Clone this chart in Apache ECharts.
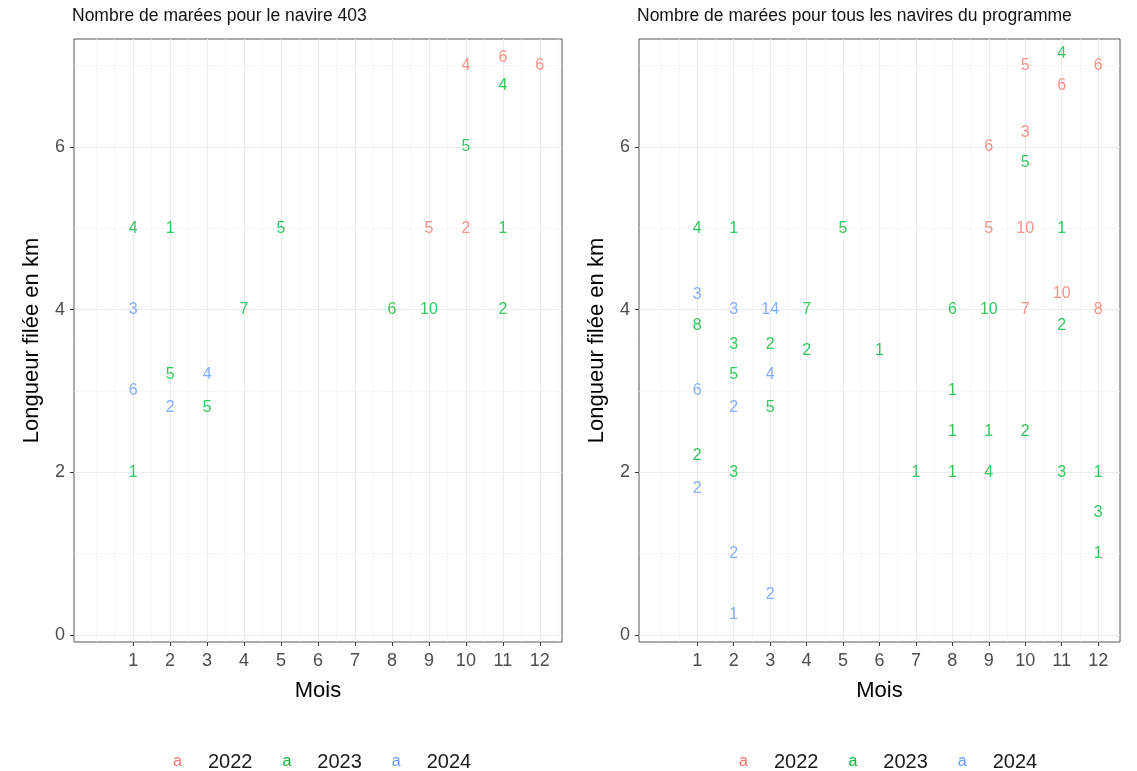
<!DOCTYPE html>
<html>
<head>
<meta charset="utf-8">
<script src="https://cdn.jsdelivr.net/npm/echarts@6/dist/echarts.min.js"></script>
<style>
  html, body { margin: 0; padding: 0; background: #fff; }
  #chart { width: 1137px; height: 771px; }
</style>
</head>
<body>
<div id="chart"></div>
<script>
// Navire 403
const navireMonths  = [10, 11, 12, 9, 10, 11, 10, 1, 2, 5, 11, 4, 8, 9, 11, 2, 3, 1, 1, 1, 2, 3]
const navireLengths = [7.0, 7.1, 7.0, 5, 5, 6.75, 6.0, 5, 5, 5, 5, 4, 4, 4, 4, 3.2, 2.8, 2.0, 4, 3.0, 2.8, 3.2]
const navireCounts  = [4, 6, 6, 5, 2, 4, 5, 4, 1, 5, 1, 7, 6, 10, 2, 5, 5, 1, 3, 6, 2, 4]
const navireYears   = ['2022', '2022', '2022', '2022', '2022',
  '2023', '2023', '2023', '2023', '2023', '2023', '2023', '2023', '2023', '2023', '2023', '2023', '2023',
  '2024', '2024', '2024', '2024']

// Tous les navires du programme
const progMonths  = [10, 12, 11, 10, 9, 9, 10, 11, 10, 12,
  11, 10, 1, 2, 5, 11, 4, 8, 9, 1, 11, 2, 3, 4, 6, 2, 8, 3, 8, 9, 10, 1, 2, 7, 8, 9, 11, 12, 12, 12,
  1, 2, 3, 3, 1, 2, 1, 2, 3, 2]
const progLengths = [7, 7, 6.75, 6.18, 6, 5, 5, 4.2, 4, 4,
  7.15, 5.8, 5, 5, 5, 5, 4, 4, 4, 3.8, 3.8, 3.57, 3.57, 3.5, 3.5, 3.2, 3.0, 2.8, 2.5, 2.5, 2.5, 2.2, 2, 2, 2, 2, 2, 2, 1.5, 1.0,
  4.18, 4, 4, 3.2, 3.0, 2.8, 1.8, 1.0, 0.5, 0.25]
const progCounts  = [5, 6, 6, 3, 6, 5, 10, 10, 7, 8,
  4, 5, 4, 1, 5, 1, 7, 6, 10, 8, 2, 3, 2, 2, 1, 5, 1, 5, 1, 1, 2, 2, 3, 1, 1, 4, 3, 1, 3, 1,
  3, 3, 14, 4, 6, 2, 2, 2, 2, 1]
const progYears = [].concat(
  Array(10).fill('2022'), Array(30).fill('2023'), Array(10).fill('2024'))

const years = ['2022', '2023', '2024']
const yearColors = ['#F8766D', '#00BA38', '#619CFF']
const monthTicks = [1, 2, 3, 4, 5, 6, 7, 8, 9, 10, 11, 12]
const monthMinor = [0, 0.5, 1.5, 2.5, 3.5, 4.5, 5.5, 6.5, 7.5, 8.5, 9.5, 10.5, 11.5, 12.5]
const lengthTicks = [0, 2, 4, 6]
const lengthMinor = [1, 3, 5, 7]

const FONT = 'Liberation Sans, Arial, sans-serif'
const chart = echarts.init(document.getElementById('chart'))

const grids = [
  { left: 74, top: 39, width: 488, height: 603 },
  { left: 639, top: 39, width: 481, height: 603 }
]

const xAxes = []
const yAxes = []
grids.forEach((g, i) => {
  xAxes.push({
    type: 'value', gridIndex: i, min: -0.6, max: 12.6,
    name: 'Mois', nameLocation: 'middle', nameGap: 38,
    nameTextStyle: { fontSize: 22, color: '#000', fontFamily: FONT },
    axisLine: { show: false, onZero: false },
    axisTick: { show: true, length: 4, customValues: monthTicks, lineStyle: { color: '#333' } },
    axisLabel: { customValues: monthTicks, margin: 10, fontSize: 18, color: '#4d4d4d', fontFamily: FONT },
    splitLine: { show: true, lineStyle: { color: '#ebebeb', width: 1.1 } }
  })
  xAxes.push({
    type: 'value', gridIndex: i, min: -0.6, max: 12.6, position: 'top',
    axisLine: { show: false, onZero: false }, axisLabel: { show: false },
    axisTick: { show: false, customValues: monthMinor },
    splitLine: { show: true, lineStyle: { color: '#f2f2f2', width: 0.6 } }
  })
  yAxes.push({
    type: 'value', gridIndex: i, min: -0.086, max: 7.325,
    name: 'Longueur filée en km', nameLocation: 'middle', nameGap: 31,
    nameTextStyle: { fontSize: 22, color: '#000', fontFamily: FONT },
    axisLine: { show: false, onZero: false },
    axisTick: { show: true, length: 4, customValues: lengthTicks, lineStyle: { color: '#333' } },
    axisLabel: { customValues: lengthTicks, margin: 9, fontSize: 18, color: '#4d4d4d', fontFamily: FONT },
    splitLine: { show: true, lineStyle: { color: '#ebebeb', width: 1.1 } }
  })
  yAxes.push({
    type: 'value', gridIndex: i, min: -0.086, max: 7.325, position: 'right',
    axisLine: { show: false, onZero: false }, axisLabel: { show: false },
    axisTick: { show: false, customValues: lengthMinor },
    splitLine: { show: true, lineStyle: { color: '#f2f2f2', width: 0.6 } }
  })
})

function buildSeries(months, lengths, counts, yrs, panel) {
  return years.map((y, k) => ({
    name: y,
    type: 'scatter',
    xAxisIndex: panel * 2,
    yAxisIndex: panel * 2,
    symbolSize: 1,
    itemStyle: { color: 'rgba(0,0,0,0)' },
    silent: true,
    label: {
      show: true, position: 'inside',
      formatter: p => String(p.value[2]),
      color: yearColors[k], fontSize: 16, fontFamily: FONT
    },
    data: months.map((m, j) => [m, lengths[j], counts[j], yrs[j]]).filter(d => d[3] === y)
  }))
}

const legendRich = {
  c2022: { color: yearColors[0], fontSize: 16, fontFamily: FONT },
  c2023: { color: yearColors[1], fontSize: 16, fontFamily: FONT },
  c2024: { color: yearColors[2], fontSize: 16, fontFamily: FONT },
  t: { color: '#1a1a1a', fontSize: 20, fontFamily: FONT, padding: [0, 0, 0, 26] }
}
function legendFor(left) {
  return {
    left: left, top: 747, orient: 'horizontal',
    icon: 'none', itemWidth: 0, itemHeight: 0, itemGap: 25,
    selectedMode: false,
    data: years,
    formatter: n => '{c' + n + '|a}{t|' + n + '}',
    textStyle: { rich: legendRich }
  }
}

chart.setOption({
  animation: false,
  backgroundColor: '#fff',
  title: [
    { text: 'Nombre de marées pour le navire 403', left: 72, top: 7, padding: 0,
      textStyle: { fontSize: 17.5, fontWeight: 'normal', color: '#111', fontFamily: FONT } },
    { text: 'Nombre de marées pour tous les navires du programme', left: 637, top: 7, padding: 0,
      textStyle: { fontSize: 17.5, fontWeight: 'normal', color: '#111', fontFamily: FONT } }
  ],
  grid: grids.map(g => Object.assign({ show: true, borderColor: '#555', borderWidth: 1, backgroundColor: '#fff' }, g)),
  xAxis: xAxes,
  yAxis: yAxes,
  legend: [legendFor(163), legendFor(729)],
  series: buildSeries(navireMonths, navireLengths, navireCounts, navireYears, 0)
    .concat(buildSeries(progMonths, progLengths, progCounts, progYears, 1))
})
</script>
</body>
</html>
